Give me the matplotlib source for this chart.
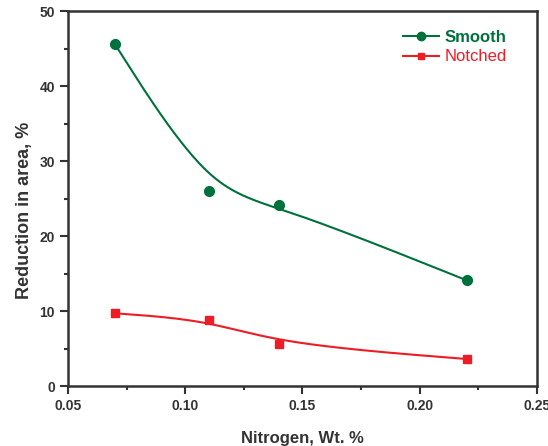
import numpy as np
import matplotlib.pyplot as plt
from matplotlib.ticker import MultipleLocator

plt.rcParams['font.family'] = ['Liberation Sans', 'DejaVu Sans']

nitrogen = [0.07, 0.11, 0.14, 0.22]
smooth = [45.6, 26.0, 24.1, 14.1]
notched = [9.7, 8.8, 5.6, 3.6]

green = '#00703c'
red = '#ee1c25'
dark = '#333333'


def bspline(xs, ys, n=60):
    # uniform cubic B-spline, end points tripled so the curve starts/ends on them
    p = np.column_stack([xs, ys])
    q = np.vstack([p[:1], p[:1], p, p[-1:], p[-1:]])
    t = np.linspace(0, 1, n)
    b0 = (1 - t)**3 / 6
    b1 = (3 * t**3 - 6 * t**2 + 4) / 6
    b2 = (-3 * t**3 + 3 * t**2 + 3 * t + 1) / 6
    b3 = t**3 / 6
    segs = []
    for i in range(len(q) - 3):
        c = (b0[:, None] * q[i] + b1[:, None] * q[i + 1]
             + b2[:, None] * q[i + 2] + b3[:, None] * q[i + 3])
        segs.append(c)
    c = np.vstack(segs)
    return c[:, 0], c[:, 1]


fig = plt.figure(figsize=(5.48, 4.46), dpi=100)
ax = fig.add_axes([0.124, 0.1345, 0.856, 0.8405])

sx, sy = bspline(nitrogen, smooth)
nx, ny = bspline(nitrogen, notched)
ax.plot(sx, sy, color=green, lw=1.5)
ax.plot(nx, ny, color=red, lw=1.5)
ax.plot(nitrogen, smooth, 'o', color=green, ms=7)
ax.plot(nitrogen, notched, 's', color=red, ms=5.5)

# legend handles
h1, = ax.plot([], [], '-o', color=green, ms=6, lw=1.5)
h2, = ax.plot([], [], '-s', color=red, ms=5, lw=1.5)
leg = ax.legend([h1, h2], ['Smooth', 'Notched'], loc='upper right',
                bbox_to_anchor=(0.96, 0.98), frameon=False,
                fontsize=12, handlelength=2.2, handletextpad=0.3,
                borderaxespad=0.3, labelspacing=0.25)
for txt, c in zip(leg.get_texts(), [green, red]):
    txt.set_color(c)
    txt.set_fontweight('bold' if c == green else 'normal')

ax.set_xlim(0.05, 0.25)
ax.set_ylim(0, 50)
ax.set_xticks([0.05, 0.10, 0.15, 0.20, 0.25])
ax.set_xticklabels(['0.05', '0.10', '0.15', '0.20', '0.25'])
ax.xaxis.set_minor_locator(MultipleLocator(0.025))
ax.yaxis.set_minor_locator(MultipleLocator(5))
ax.tick_params(which='both', direction='out', color=dark, width=1.5,
               labelsize=10, labelcolor=dark)
ax.tick_params(which='major', length=6)
ax.tick_params(which='minor', length=3)
for lab in ax.get_xticklabels() + ax.get_yticklabels():
    lab.set_fontweight('bold')
for s in ax.spines.values():
    s.set_color(dark)
    s.set_linewidth(1.8)

ax.set_xlabel('Nitrogen, Wt. %', fontsize=12, fontweight='bold', color=dark, labelpad=13)
ax.set_ylabel('Reduction in area, %', fontsize=13, fontweight='bold', color=dark)
ax.yaxis.set_label_coords(-0.075, 0.468)

fig.savefig('out.png', dpi=100)
